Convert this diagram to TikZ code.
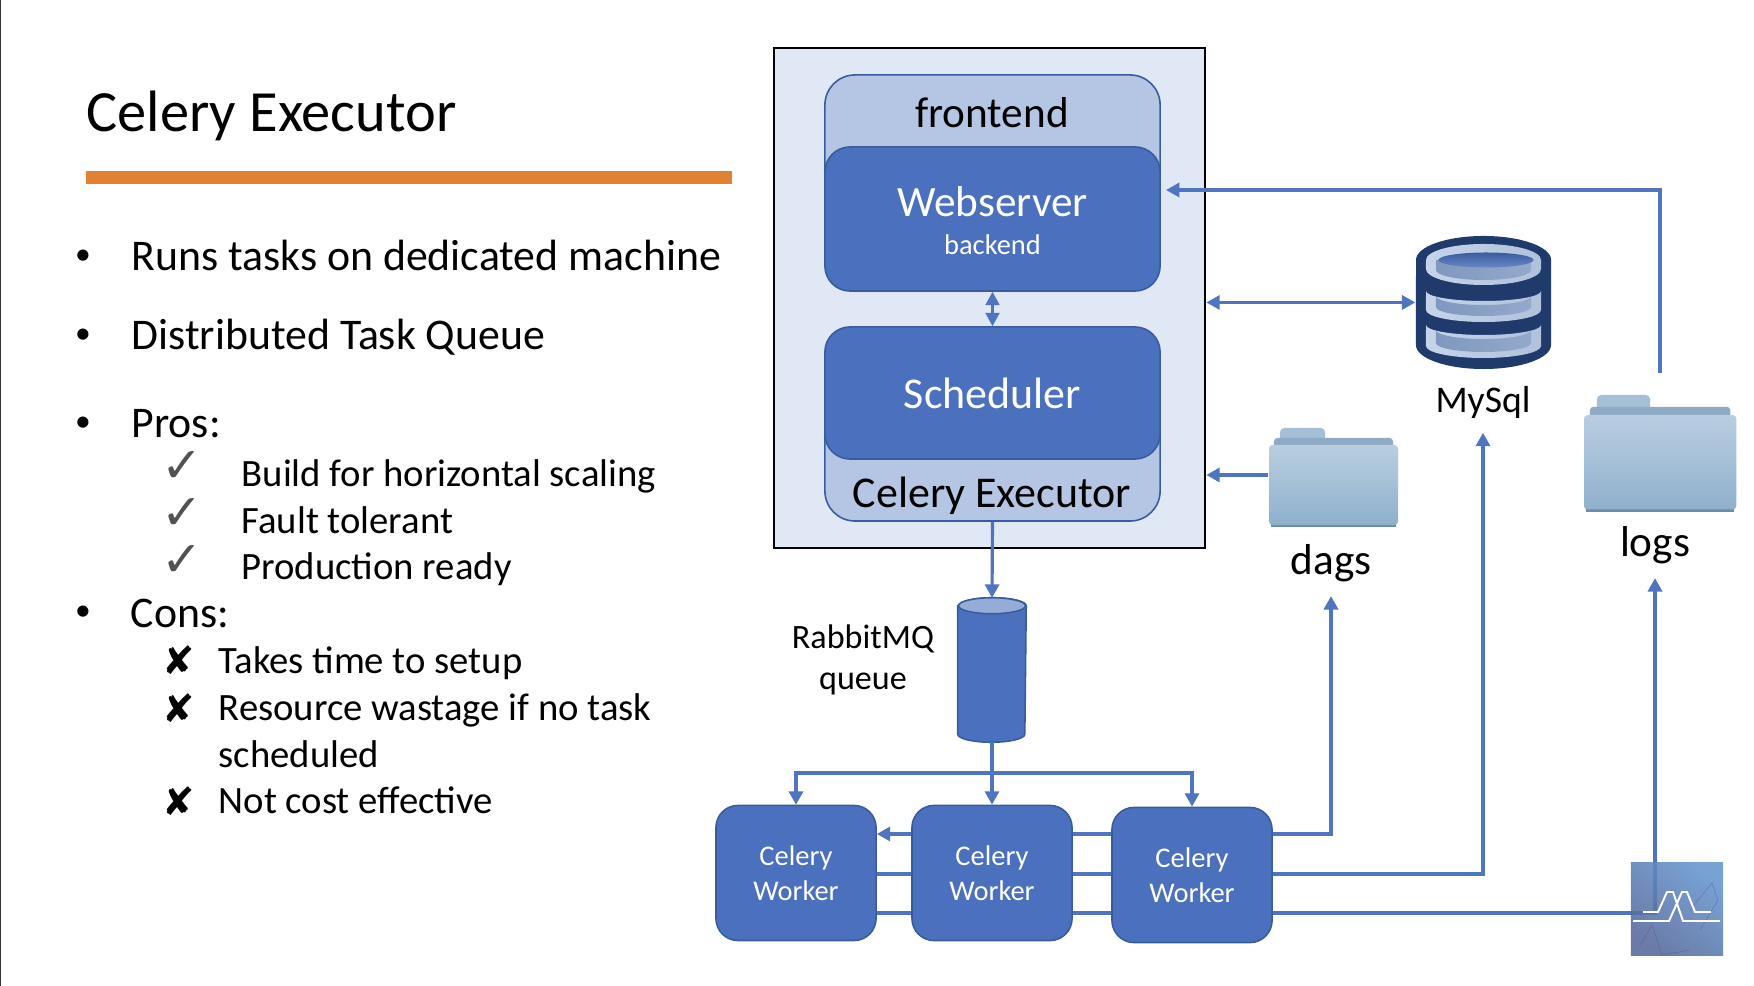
\documentclass[tikz,border=0pt]{standalone}
\usepackage{fontspec}
\setmainfont{Carlito}
\newfontfamily\symbfont{DejaVu Sans}
\usetikzlibrary{arrows.meta}

\definecolor{boxblue}{HTML}{4A70BE}
\definecolor{boxedge}{HTML}{3A5C9E}
\definecolor{paleblue}{HTML}{B5C6E4}
\definecolor{clusterblue}{HTML}{DFE8F4}
\definecolor{linkblue}{HTML}{4F75C0}
\definecolor{barorange}{HTML}{E08232}
\definecolor{dbnavy}{HTML}{1F3A6B}
\definecolor{dblight}{HTML}{C5D4EA}
\definecolor{dbmid}{HTML}{93A9CC}
\definecolor{dbsoft}{HTML}{B0C1DC}
\definecolor{dbpanel}{HTML}{8098BF}
\definecolor{folderlight}{HTML}{B9CEE0}
\definecolor{folderdark}{HTML}{8FB0CC}
\definecolor{foldertab}{HTML}{A4BFD6}
\definecolor{folderback}{HTML}{8FAAC4}
\definecolor{folderlip}{HTML}{6F8CA6}

\tikzset{
    >={Triangle[length=3.8pt,width=4pt]},
    flow/.style={draw=linkblue, line width=0.9pt},
    darkbox/.style={draw=boxedge, line width=0.45pt, fill=boxblue, text=white, inner sep=0pt, align=center},
    palebox/.style={draw=boxedge, line width=0.45pt, fill=paleblue, inner sep=0pt, rounded corners=0.3cm, minimum width=3.35cm},
    worker/.style={darkbox, rounded corners=0.22cm, minimum width=1.6cm, minimum height=1.35cm, font=\fontsize{8.1}{10}\selectfont},
    bigtext/.style={anchor=base, inner sep=0pt, font=\fontsize{12.3}{14}\selectfont},
    bodyline/.style={anchor=base west, inner sep=0pt, font=\fontsize{12.45}{14}\selectfont},
    subline/.style={anchor=base west, inner sep=0pt, font=\fontsize{11}{13}\selectfont},
    dotmark/.style={anchor=base, inner sep=0pt, font=\fontsize{9}{10}\selectfont},
    tickmark/.style={inner sep=0pt, text=black!68, font=\symbfont\bfseries\fontsize{14}{16}\selectfont},
    crossmark/.style={inner sep=0pt, font=\symbfont\fontsize{11}{13}\selectfont},
    logonet/.style={draw=violet!45!boxblue, line width=0.15pt, opacity=0.45},
    logoline/.style={draw=white, line width=0.55pt},
}

% folder: name, left, top, size of one unit
\newcommand{\folderdir}[4]{%
    \begin{scope}[shift={(#2,#3)},x=#4cm,y=-#4cm]
        \fill[rounded corners=1.2pt, fill=foldertab] (11,0) rectangle (56,24);
        \fill[rounded corners=1pt, fill=folderback] (5,10) rectangle (124,24);
        \fill[fill=folderlip] (2,80) rectangle (127,99);
        \node[rounded corners=1pt, inner sep=0pt, top color=folderlight, bottom color=folderdark,
            minimum width=129*#4cm, minimum height=80*#4cm] (#1) at (64.5,57) {};
    \end{scope}}

% one layer of the database drum: upper side, lower side
\newcommand{\dbtier}[2]{%
    \shade[left color=dblight, middle color=dbmid, right color=dbsoft]
        (1426,#1) arc[start angle=180, end angle=360, x radius=0.575cm, y radius=0.1cm]
        -- (1541,#2) arc[start angle=0, end angle=-180, x radius=0.575cm, y radius=0.12cm] -- cycle;
    \shade[left color=dbpanel, right color=dbmid]
        (1436,#1+5) arc[start angle=180, end angle=360, x radius=0.475cm, y radius=0.09cm]
        -- (1531,#2-3) arc[start angle=0, end angle=-180, x radius=0.475cm, y radius=0.09cm] -- cycle;
}

\begin{document}
\begin{tikzpicture}[x=0.01cm,y=-0.01cm]
    \useasboundingbox (0,0) rectangle (1754,986);
    \fill[white] (0,0) rectangle (1754,986);
    \draw[black!80, line width=0.5pt] (0,0) -- (0,986);

    % Left column
    \node[anchor=base west, inner sep=0pt, font=\fontsize{16.6}{20}\selectfont] (title) at (86,132) {Celery Executor};
    \node[fill=barorange, inner sep=0pt, minimum width=6.46cm, minimum height=0.13cm] (titlebar) at (409,177.5) {};

    \node[dotmark] (dota) at (83,265) {•};
    \node[dotmark] (dotb) at (83,344) {•};
    \node[dotmark] (dotc) at (83,432) {•};
    \node[dotmark] (dotd) at (83,621) {•};
    \node[bodyline] (runs) at (131,271) {Runs tasks on dedicated machine};
    \node[bodyline] (queue) at (131,350) {Distributed Task Queue};
    \node[bodyline] (pros) at (131,438) {Pros:};
    \node[bodyline] (cons) at (130,628) {Cons:};

    \node[tickmark] (ticka) at (182,467) {✓};
    \node[tickmark] (tickb) at (182,514) {✓};
    \node[tickmark] (tickc) at (182,561) {✓};
    \node[subline] (build) at (241,487) {Build for horizontal scaling};
    \node[subline] (fault) at (241,534) {Fault tolerant};
    \node[subline] (ready) at (241,580) {Production ready};

    \node[crossmark] (crossa) at (179,660) {✘};
    \node[crossmark] (crossb) at (179,708) {✘};
    \node[crossmark] (crossc) at (179,801) {✘};
    \node[subline] (setup) at (218,674) {Takes time to setup};
    \node[subline] (waste) at (218,721) {Resource wastage if no task};
    \node[subline] (sched) at (218,768) {scheduled};
    \node[subline] (cost) at (218,814) {Not cost effective};

    % Airflow box
    \node[draw=black, line width=0.7pt, fill=clusterblue, inner sep=0pt, minimum width=4.31cm, minimum height=5cm] (cluster) at (989.5,298) {};
    \node[palebox, minimum height=1.35cm] (frontend) at (992.5,142.5) {};
    \node[palebox, minimum height=1.21cm] (executor) at (992.5,460.5) {};
    \node[bigtext] (frontendtxt) at (992,128) {frontend};
    \node[bigtext, font=\fontsize{12.5}{15}\selectfont] (executortxt) at (992,508) {Celery Executor};
    \node[darkbox, rounded corners=0.25cm, minimum width=3.35cm, minimum height=1.44cm] (webserver) at (992.5,219)
        {{\fontsize{12.3}{11}\selectfont\rule{0pt}{9.5pt}Webserver}\\[-1pt]{\fontsize{8.1}{11}\selectfont backend}};
    \node[darkbox, rounded corners=0.25cm, minimum width=3.35cm, minimum height=1.32cm, font=\fontsize{12.5}{14}\selectfont] (scheduler) at (992.5,393) {Scheduler};
    \draw[<->, draw=linkblue, line width=0.6pt] (webserver.south) -- (scheduler.north);

    % Database
    \node[inner sep=0pt, minimum width=1.35cm, minimum height=1.33cm] (mysql) at (1483.5,302.5) {};
    \fill[dbnavy] (1416,260) arc[start angle=180, end angle=0, x radius=0.675cm, y radius=0.24cm]
        -- (1551,345) arc[start angle=0, end angle=-180, x radius=0.675cm, y radius=0.24cm] -- cycle;
    \shade[left color=dblight, middle color=dbmid, right color=dbsoft]
        (1426,260) arc[start angle=180, end angle=0, x radius=0.575cm, y radius=0.16cm]
        -- (1541,269) arc[start angle=0, end angle=-180, x radius=0.575cm, y radius=0.16cm] -- cycle;
    \shade[left color=dbpanel, right color=dbmid]
        (1436,260) -- (1436,270) arc[start angle=180, end angle=360, x radius=0.475cm, y radius=0.1cm] -- (1531,260) -- cycle;
    \shade[top color=boxedge, bottom color=boxblue!60!dbmid] (1486,260) ellipse[x radius=0.475cm, y radius=0.075cm];
    \dbtier{291}{310}
    \dbtier{325}{346}
    \node[bigtext, font=\fontsize{10.7}{13}\selectfont] (mysqltxt) at (1483,413) {MySql};

    % Folders
    \folderdir{dagsdir}{1269}{428}{0.01}
    \folderdir{logsdir}{1584}{395}{0.0118}
    \node[bigtext] (dagstxt) at (1331,575) {dags};
    \node[bigtext] (logstxt) at (1655,557) {logs};

    % Queue
    \node[inner sep=0pt, minimum width=0.67cm, minimum height=1.43cm] (rabbit) at (992,670) {};
    \draw[draw=boxedge, line width=0.45pt, fill=boxblue] ([yshift=-0.08cm]rabbit.north west)
        -- ([yshift=0.08cm]rabbit.south west) arc[start angle=180, end angle=360, x radius=0.335cm, y radius=0.08cm]
        -- ([yshift=-0.08cm]rabbit.north east) arc[start angle=0, end angle=180, x radius=0.335cm, y radius=0.08cm] -- cycle;
    \draw[draw=boxedge, line width=0.45pt, fill=paleblue!70!boxblue] ([yshift=-0.08cm]rabbit.north) ellipse[x radius=0.335cm, y radius=0.08cm];
    \node[align=center, inner sep=0pt, anchor=base, font=\fontsize{9.7}{11.7}\selectfont] (rabbittxt) at (863,690) {RabbitMQ\\queue};

    % Workers
    \node[worker] (workera) at (796,873) {Celery\\Worker};
    \node[worker] (workerb) at (992,873) {Celery\\Worker};
    \node[worker] (workerc) at (1192,875) {Celery\\Worker};

    % Links
    \coordinate (webin) at (1166,190);
    \coordinate (logsout) at (1660,373);
    \coordinate (treejoin) at (992,773);
    \coordinate (rowa) at (0,834);
    \coordinate (rowb) at (0,874);
    \coordinate (rowc) at (0,913);

    \draw[flow,->] (logsout) |- (webin);
    \draw[flow,<->] (cluster.east |- mysql.west) -- (mysql.west);
    \draw[flow,->] ([yshift=0.1cm]dagsdir.west) -- ([yshift=0.1cm]dagsdir.west -| cluster.east);
    \draw[flow,->] (executor.south) -- (rabbit.north);
    \draw[flow,->] (rabbit.south) -- (workerb.north);
    \draw[flow,->] (treejoin) -| (workera.north);
    \draw[flow,->] (treejoin) -| (workerc.north);

    \draw[flow,->] (workerb.west |- rowa) -- (workera.east |- rowa);
    \draw[flow] (workera.east |- rowb) -- (workerb.west |- rowb);
    \draw[flow] (workera.east |- rowc) -- (workerb.west |- rowc);
    \draw[flow] (workerb.east |- rowa) -- (workerc.west |- rowa);
    \draw[flow] (workerb.east |- rowb) -- (workerc.west |- rowb);
    \draw[flow] (workerb.east |- rowc) -- (workerc.west |- rowc);

    \draw[flow,->,shorten >=0.13cm] (workerc.east |- rowa) -| (dagstxt.south);
    \draw[flow,->,shorten >=0.13cm] (workerc.east |- rowb) -| (mysqltxt.south);
    \draw[flow,->,shorten >=0.13cm] (workerc.east |- rowc) -| (logstxt.south);

    % Logo
    \definecolor{logolow}{HTML}{56699B}
    \definecolor{logohigh}{HTML}{6695CF}
    \node[inner sep=0pt, minimum size=0.92cm, fill opacity=0.88, bottom color=logolow, top color=logohigh, shading angle=-40] (logo) at (1677,909) {};
    \draw[logonet] (1640,945) -- (1652,925) -- (1662,955) -- (1690,950);
    \draw[logonet] (1690,910) -- (1712,883) -- (1718,900) -- (1700,930);
    \draw[logoline] (1643,912) -- (1658,912) -- (1667,892) -- (1673,892) -- (1683,921) -- (1720,921);
    \draw[logoline] (1633,921) -- (1669,921) -- (1682,892) -- (1687,892) -- (1695,912) -- (1711,912);
\end{tikzpicture}
\end{document}
